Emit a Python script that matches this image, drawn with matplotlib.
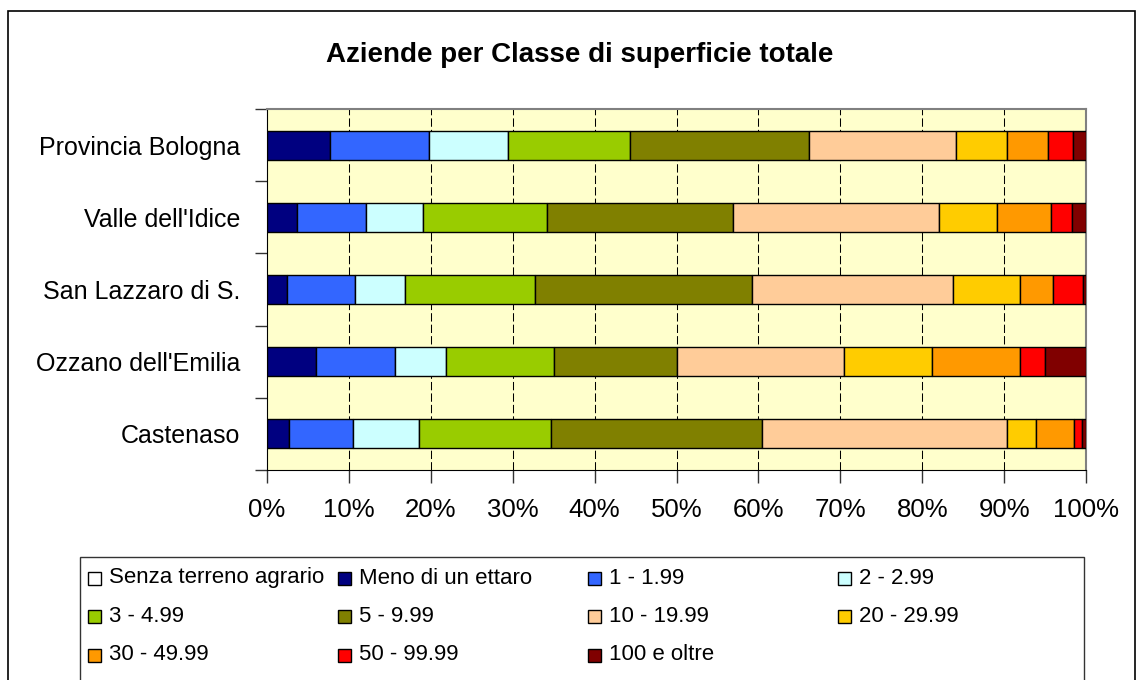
import numpy as np
import matplotlib
matplotlib.use("Agg")
import matplotlib.pyplot as plt
from matplotlib.patches import Rectangle
from matplotlib.ticker import PercentFormatter

plt.rcParams['font.family'] = ['Liberation Sans', 'DejaVu Sans']

# categories, top to bottom as shown
areas = ['Provincia Bologna', "Valle dell'Idice", 'San Lazzaro di S.', "Ozzano dell'Emilia", 'Castenaso']

classes = ['Senza terreno agrario', 'Meno di un ettaro', '1 - 1.99', '2 - 2.99', '3 - 4.99', '5 - 9.99',
           '10 - 19.99', '20 - 29.99', '30 - 49.99', '50 - 99.99', '100 e oltre']

# share (%) of farms per class, one list per class, in the order of areas
senza = [0.0, 0.0, 0.0, 0.0, 0.0]
meno = [7.7, 3.7, 2.4, 6.0, 2.7]
c1_2 = [12.1, 8.4, 8.3, 9.6, 7.8]
c2_3 = [9.6, 7.0, 6.1, 6.3, 8.1]
c3_5 = [14.9, 15.1, 15.9, 13.1, 16.1]
c5_10 = [21.9, 22.7, 26.5, 15.1, 25.7]
c10_20 = [17.9, 25.2, 24.5, 20.4, 30.0]
c20_30 = [6.3, 7.1, 8.3, 10.7, 3.5]
c30_50 = [5.0, 6.6, 4.0, 10.8, 4.6]
c50_100 = [3.0, 2.6, 3.6, 3.0, 1.0]
c100 = [1.6, 1.7, 0.4, 5.0, 0.5]

colors = ['#FFFFFF', '#000080', '#3366FF', '#CCFFFF', '#99CC00', '#808000',
          '#FFCC99', '#FFCC00', '#FF9900', '#FF0000', '#800000']

series = np.array([senza, meno, c1_2, c2_3, c3_5, c5_10, c10_20, c20_30, c30_50, c50_100, c100])
totals = series.sum(axis=0)
shares = series / totals * 100

W, H = 1145, 680
fig = plt.figure(figsize=(W / 100, H / 100), dpi=100)
fig.patch.set_facecolor('white')

# plot area in pixels: left 267, right 1086, top 109, bottom 470
ax = fig.add_axes([267 / W, 1 - 470 / H, (1086 - 267) / W, (470 - 109) / H])
ax.set_facecolor('#FFFFCC')

ypos = np.arange(len(areas))[::-1]
left = np.zeros(len(areas))
for i in range(len(classes)):
    ax.barh(ypos, shares[i], left=left, height=0.4, color=colors[i],
            edgecolor='black', linewidth=1.0, zorder=3)
    left = left + shares[i]

ax.set_xlim(0, 100)
ax.set_ylim(-0.5, len(areas) - 0.5)
ax.set_xticks(np.arange(0, 101, 10))
ax.xaxis.set_major_formatter(PercentFormatter(decimals=0))
ax.tick_params(axis='x', labelsize=18.5, length=9, width=1, color='#333333', pad=11)

ax.set_yticks(np.arange(-0.5, len(areas), 1))
ax.set_yticklabels([])
ax.set_yticks(ypos, minor=True)
ax.set_yticklabels(areas, minor=True)
ax.tick_params(axis='y', which='major', length=9, width=1, color='#333333')
ax.tick_params(axis='y', which='minor', length=0, labelsize=18, pad=19)

for x in range(10, 100, 10):
    ax.axvline(x, color='black', linewidth=0.75, linestyle=(0, (8, 3)), zorder=1)

ax.spines['left'].set_color('black')
ax.spines['bottom'].set_color('black')
ax.spines['top'].set_color('#808080')
ax.spines['right'].set_color('#808080')
ax.spines['top'].set_linewidth(1.5)
ax.spines['right'].set_linewidth(1.5)

fig.text(580 / W, 1 - 55 / H, 'Aziende per Classe di superficie totale', ha='center', va='center',
         fontsize=20, fontweight='bold')

# outer chart border
fig.patches.append(Rectangle((8 / W, -0.05), (1135 - 8) / W, 1.05 - 11 / H, transform=fig.transFigure,
                             facecolor='none', edgecolor='black', linewidth=1.2))

# legend box, laid out row by row like Excel
fig.patches.append(Rectangle((80 / W, -0.05), (1084 - 80) / W, 0.05 + 1 - 557 / H, transform=fig.transFigure,
                             facecolor='white', edgecolor='#333333', linewidth=1.0))
col_x = [88, 338, 588, 838]
row_y = [578, 616, 655]
for i in range(len(classes)):
    cx = col_x[i % 4]
    cy = row_y[i // 4]
    fig.patches.append(Rectangle((cx / W, 1 - (cy + 7) / H), 13 / W, 13 / H, transform=fig.transFigure,
                                 facecolor=colors[i], edgecolor='black', linewidth=1.0))
    fig.text((cx + 21) / W, 1 - cy / H, classes[i], ha='left', va='center', fontsize=16)

fig.savefig('out.png', dpi=100)
